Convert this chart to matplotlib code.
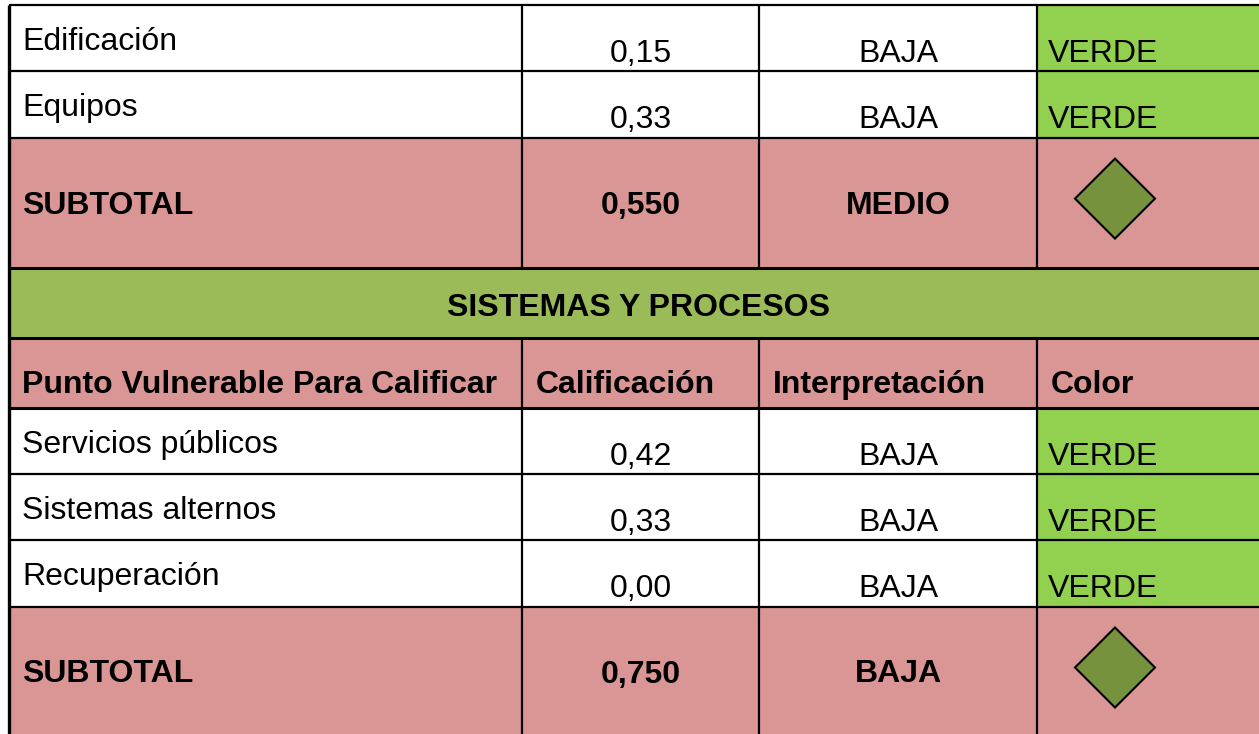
import matplotlib.pyplot as plt
from matplotlib.patches import Rectangle, Polygon

plt.rcParams['font.family'] = ['Liberation Sans', 'DejaVu Sans']

ROSA = '#DA9694'
VERDE_CLARO = '#92D050'
VERDE_OLIVA = '#9BBB59'
DIAMANTE = '#77923C'

# --- Datos de la tabla ---
puntos_1 = ['Edificación', 'Equipos']
calif_1 = ['0,15', '0,33']
interp_1 = ['BAJA', 'BAJA']
color_1 = ['VERDE', 'VERDE']
subtotal_1 = ['SUBTOTAL', '0,550', 'MEDIO']

seccion = 'SISTEMAS Y PROCESOS'
encabezados = ['Punto Vulnerable Para Calificar', 'Calificación', 'Interpretación', 'Color']

puntos_2 = ['Servicios públicos', 'Sistemas alternos', 'Recuperación']
calif_2 = ['0,42', '0,33', '0,00']
interp_2 = ['BAJA', 'BAJA', 'BAJA']
color_2 = ['VERDE', 'VERDE', 'VERDE']
subtotal_2 = ['SUBTOTAL', '0,750', 'BAJA']

# --- Geometria (pixeles) ---
W, H = 1259, 734
col_x = [9, 522, 759, 1037, 1268]
y0 = 5
h_dato, h_sub, h_sec = 66.3, 130, 70
FS = 23

fig = plt.figure(figsize=(W / 100, H / 100), dpi=100)
ax = fig.add_axes([0, 0, 1, 1])
ax.set_xlim(0, W)
ax.set_ylim(H, 0)
ax.axis('off')

filas = []  # (tipo, top, alto, contenido)
y = y0
for p, c, i, v in zip(puntos_1, calif_1, interp_1, color_1):
    filas.append(('dato', y, h_dato, (p, c, i, v)))
    y += h_dato
filas.append(('sub', y, h_sub, subtotal_1))
y += h_sub
filas.append(('sec', y, h_sec, seccion))
y += h_sec
filas.append(('head', y, h_sec, encabezados))
y += h_sec
for p, c, i, v in zip(puntos_2, calif_2, interp_2, color_2):
    filas.append(('dato', y, h_dato, (p, c, i, v)))
    y += h_dato
filas.append(('sub', y, h_sub, subtotal_2))
y += h_sub
y_fin = y


def centro(k):
    return (col_x[k] + col_x[k + 1]) / 2


for tipo, top, alto, cont in filas:
    if tipo == 'dato':
        ax.add_patch(Rectangle((col_x[3], top), col_x[4] - col_x[3], alto, color=VERDE_CLARO, lw=0))
        ax.text(22, top + 45, cont[0], fontsize=FS, va='baseline', ha='left')
        ax.text(centro(1), top + 57, cont[1], fontsize=FS, va='baseline', ha='center')
        ax.text(centro(2), top + 57, cont[2], fontsize=FS, va='baseline', ha='center')
        ax.text(col_x[3] + 11, top + 57, cont[3], fontsize=FS, va='baseline', ha='left')
    elif tipo == 'sub':
        ax.add_patch(Rectangle((col_x[0], top), col_x[4] - col_x[0], alto, color=ROSA, lw=0))
        yb = top + 76
        ax.text(22, yb, cont[0], fontsize=FS, va='baseline', ha='left', fontweight='bold')
        ax.text(centro(1), yb, cont[1], fontsize=FS, va='baseline', ha='center', fontweight='bold')
        ax.text(centro(2), yb, cont[2], fontsize=FS, va='baseline', ha='center', fontweight='bold')
        cx, cy, r = 1115, top + alto / 2 - 4, 40
        ax.add_patch(Polygon([(cx, cy - r), (cx + r, cy), (cx, cy + r), (cx - r, cy)],
                             closed=True, facecolor=DIAMANTE, edgecolor='black', lw=1.5))
    elif tipo == 'sec':
        ax.add_patch(Rectangle((col_x[0], top), col_x[4] - col_x[0], alto, color=VERDE_OLIVA, lw=0))
        ax.text((col_x[0] + col_x[4]) / 2, top + 48, cont, fontsize=FS, va='baseline',
                ha='center', fontweight='bold')
    else:
        ax.add_patch(Rectangle((col_x[0], top), col_x[4] - col_x[0], alto, color=ROSA, lw=0))
        for k, txt in enumerate(cont):
            x_txt = 22 if k == 0 else col_x[k] + 14
            ax.text(x_txt, top + 55, txt, fontsize=FS, va='baseline', ha='left', fontweight='bold')

# --- Bordes ---
gruesas = {'sec', 'head'}
for n, (tipo, top, alto, cont) in enumerate(filas):
    lw = 2.2 if tipo in gruesas or (n > 0 and filas[n - 1][0] in gruesas) else 1.6
    ax.hlines(top, col_x[0], col_x[4], color='black', lw=lw)
ax.vlines(col_x[0], y0, y_fin, color='black', lw=2.4)

# lineas de columna (no atraviesan la fila de seccion)
sec_top = [f[1] for f in filas if f[0] == 'sec'][0]
for xc in col_x[1:4]:
    ax.vlines(xc, y0, sec_top, color='black', lw=1.6)
    ax.vlines(xc, sec_top + h_sec, y_fin, color='black', lw=1.6)

fig.savefig('out.png', dpi=100)
